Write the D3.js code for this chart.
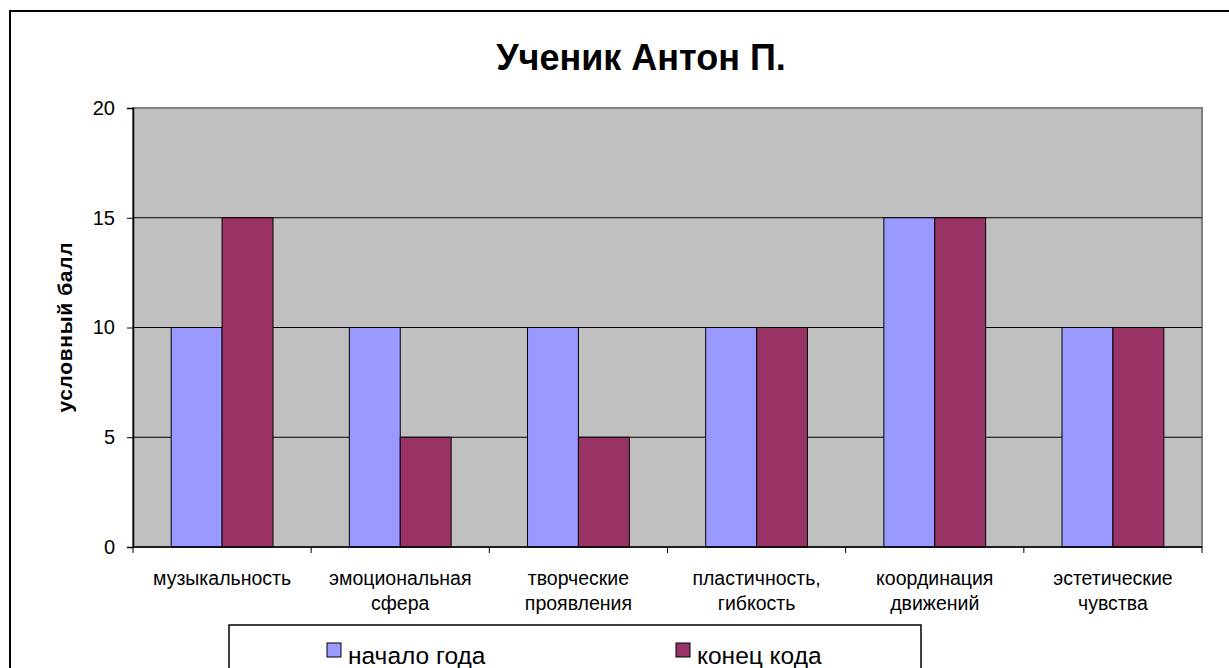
<!DOCTYPE html>
<html>
<head>
<meta charset="utf-8">
<script src="https://cdn.jsdelivr.net/npm/d3@7"></script>
<style>
  body { margin: 0; background: #fff; }
  svg { display: block; font-family: Arial, 'Liberation Sans', sans-serif; }
</style>
</head>
<body>
<div id="viz"></div>
<script>
var categories = [
        ['музыкальность'],
        ['эмоциональная', 'сфера'],
        ['творческие', 'проявления'],
        ['пластичность,', 'гибкость'],
        ['координация', 'движений'],
        ['эстетические', 'чувства']
    ],
    seriesNames = ['начало года', 'конец кода'],
    startValues = [10, 10, 10, 10, 15, 10],
    endValues   = [15, 5, 5, 10, 15, 10],
    yTicks = [0, 5, 10, 15, 20],
    colors = ['#9999FF', '#993366'],

    width = 1229,
    height = 668,
    plot = {left: 133, right: 1202, top: 108, bottom: 547},

    svg = d3.select('#viz')
        .append('svg')
            .attr('width', width)
            .attr('height', height),

    catKeys = categories.map(function (c) { return c.join(' '); }),

    x = d3.scaleBand()
        .domain(catKeys)
        .range([plot.left, plot.right]),

    bw = x.bandwidth(),

    xSub = d3.scaleBand()
        .domain(seriesNames)
        .range([bw * 0.75 / 3.5, bw * 2.75 / 3.5]),

    y = d3.scaleLinear()
        .domain([0, 20])
        .range([plot.bottom, plot.top]);

// outer frame (right and bottom edges fall outside the picture)
svg.append('rect')
    .attr('x', 10)
    .attr('y', 11)
    .attr('width', 1240)
    .attr('height', 700)
    .style('fill', 'none')
    .style('stroke', '#000')
    .style('stroke-width', 2);

// title
svg.append('text')
    .attr('x', 641)
    .attr('y', 70)
    .attr('text-anchor', 'middle')
    .style('font-size', '36px')
    .style('font-weight', 'bold')
    .text('Ученик Антон П.');

// plot background
svg.append('rect')
    .attr('x', plot.left)
    .attr('y', plot.top)
    .attr('width', plot.right - plot.left)
    .attr('height', plot.bottom - plot.top)
    .style('fill', '#C0C0C0')
    .style('stroke', '#808080')
    .style('stroke-width', 2);

// gridlines
svg.append('g')
    .selectAll('line')
    .data(yTicks.filter(function (t) { return t > 0 && t < 20; }))
    .enter().append('line')
        .attr('x1', plot.left)
        .attr('x2', plot.right)
        .attr('y1', function (d) { return y(d); })
        .attr('y2', function (d) { return y(d); })
        .style('stroke', '#000')
        .style('stroke-width', 1);

// bars
var rows = catKeys.map(function (k, i) {
    return [
        {cat: k, s: seriesNames[0], v: startValues[i], c: colors[0]},
        {cat: k, s: seriesNames[1], v: endValues[i], c: colors[1]}
    ];
});

svg.append('g')
    .selectAll('rect')
    .data([].concat.apply([], rows))
    .enter().append('rect')
        .attr('x', function (d) { return x(d.cat) + xSub(d.s); })
        .attr('y', function (d) { return y(d.v); })
        .attr('width', xSub.bandwidth())
        .attr('height', function (d) { return y(0) - y(d.v); })
        .style('fill', function (d) { return d.c; })
        .style('stroke', '#000')
        .style('stroke-width', 1);

// y axis
var yAxis = svg.append('g')
    .attr('transform', 'translate(' + plot.left + ',0)')
    .call(d3.axisLeft(y).tickValues(yTicks).tickSize(6).tickPadding(12));

yAxis.selectAll('text')
    .style('font-size', '20px')
    .style('font-family', "Arial, 'Liberation Sans', sans-serif")
    .style('fill', '#000');
yAxis.select('.domain').style('stroke', '#000').style('stroke-width', 1.5);

// x axis
var xAxis = svg.append('g')
    .attr('transform', 'translate(0,' + plot.bottom + ')');

xAxis.append('line')
    .attr('x1', plot.left)
    .attr('x2', plot.right)
    .style('stroke', '#000')
    .style('stroke-width', 1.5);

xAxis.selectAll('line.tick')
    .data(d3.range(catKeys.length + 1))
    .enter().append('line')
        .attr('class', 'tick')
        .attr('x1', function (i) { return plot.left + i * bw; })
        .attr('x2', function (i) { return plot.left + i * bw; })
        .attr('y1', 0)
        .attr('y2', 6)
        .style('stroke', '#000');

xAxis.selectAll('text')
    .data(categories)
    .enter().append('text')
        .attr('text-anchor', 'middle')
        .attr('transform', function (d, i) {
            return 'translate(' + (x(catKeys[i]) + bw / 2) + ',38)';
        })
        .style('font-size', '19.5px')
        .each(function (d) {
            var t = d3.select(this);
            d.forEach(function (line, j) {
                t.append('tspan')
                    .attr('x', 0)
                    .attr('dy', j === 0 ? 0 : 25)
                    .text(line);
            });
        });

// y axis title
svg.append('text')
    .attr('transform', 'translate(72,' + ((plot.top + plot.bottom) / 2) + ') rotate(-90)')
    .attr('text-anchor', 'middle')
    .attr('textLength', 170)
    .attr('lengthAdjust', 'spacing')
    .style('font-size', '21px')
    .style('font-weight', 'bold')
    .text('условный балл');

// legend
var legend = svg.append('g');

legend.append('rect')
    .attr('x', 229)
    .attr('y', 625)
    .attr('width', 692)
    .attr('height', 60)
    .style('fill', '#fff')
    .style('stroke', '#000')
    .style('stroke-width', 1.5);

var items = legend.selectAll('g.item')
    .data(seriesNames)
    .enter().append('g')
        .attr('class', 'item')
        .attr('transform', function (d, i) {
            return 'translate(' + [327, 676][i] + ',0)';
        });

items.append('rect')
    .attr('x', 0)
    .attr('y', 643)
    .attr('width', 14)
    .attr('height', 14)
    .style('fill', function (d, i) { return colors[i]; })
    .style('stroke', '#000');

items.append('text')
    .attr('x', 21)
    .attr('y', 664)
    .style('font-size', '24.5px')
    .text(function (d) { return d; });
</script>
</body>
</html>
